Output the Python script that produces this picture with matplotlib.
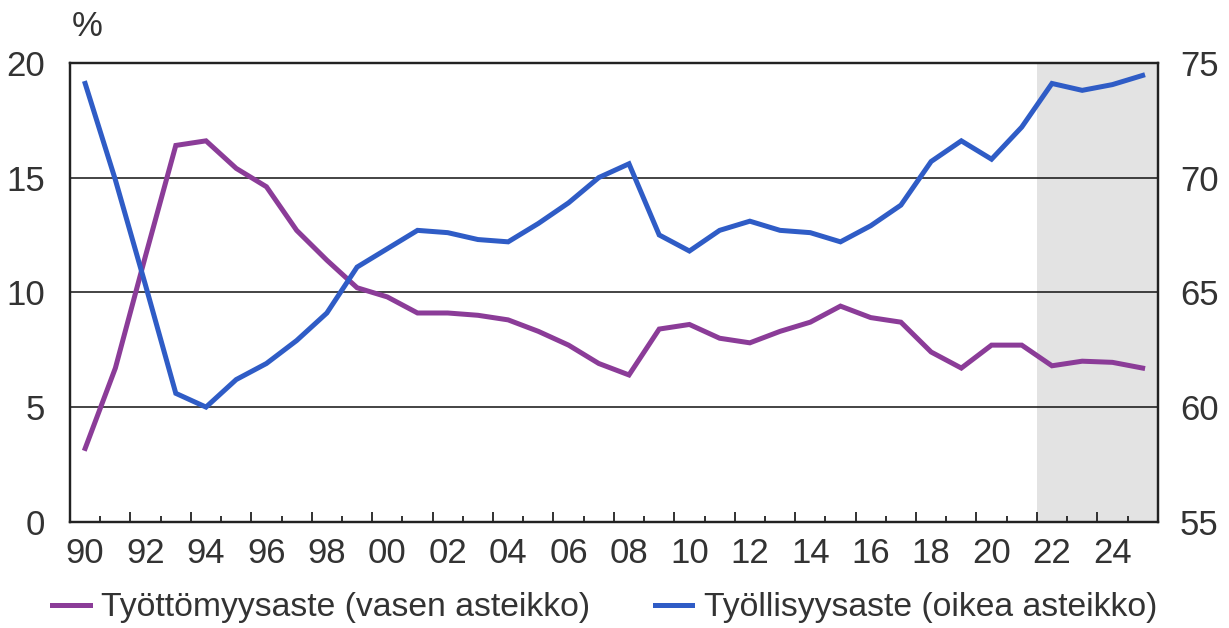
import matplotlib
matplotlib.use("Agg")
import matplotlib.pyplot as plt
import numpy as np

plt.rcParams['font.family'] = ['Liberation Sans', 'DejaVu Sans']

years = list(range(1990, 2026))

# työttömyysaste, % (vasen asteikko)
unemployment = [3.2, 6.7, 11.6, 16.4, 16.6, 15.4, 14.6, 12.7, 11.4, 10.2,
                9.8, 9.1, 9.1, 9.0, 8.8, 8.3, 7.7, 6.9, 6.4, 8.4,
                8.6, 8.0, 7.8, 8.3, 8.7, 9.4, 8.9, 8.7, 7.4, 6.7,
                7.7, 7.7, 6.8, 7.0, 6.95, 6.7]

# työllisyysaste, % (oikea asteikko)
employment = [74.1, 69.9, 65.3, 60.6, 60.0, 61.2, 61.9, 62.9, 64.1, 66.1,
              66.9, 67.7, 67.6, 67.3, 67.2, 68.0, 68.9, 70.0, 70.6, 67.5,
              66.8, 67.7, 68.1, 67.7, 67.6, 67.2, 67.9, 68.8, 70.7, 71.6,
              70.8, 72.2, 74.1, 73.8, 74.05, 74.45]

forecast_start = 2021.5
year_labels = ['90', '92', '94', '96', '98', '00', '02', '04', '06', '08',
               '10', '12', '14', '16', '18', '20', '22', '24']

purple = '#8b3c98'
blue = '#2f5cc6'
txt = '#333333'
fs = 25

fig = plt.figure(figsize=(12.29, 6.28), dpi=100)
ax = fig.add_axes([0.057, 0.169, 0.885, 0.731])
ax2 = ax.twinx()

ax.axvspan(forecast_start, 2025.5, color='#e3e3e3', zorder=0, lw=0)

ax.set_xlim(1989.5, 2025.5)
ax.set_ylim(0, 20)
ax2.set_ylim(55, 75)

for v in [5, 10, 15]:
    ax.axhline(v, color='#111111', lw=1.1, zorder=1)

l1, = ax.plot(years, unemployment, color=purple, lw=3.6, zorder=3,
              solid_joinstyle='miter', label='Työttömyysaste (vasen asteikko)')
l2, = ax2.plot(years, employment, color=blue, lw=3.6, zorder=3,
               solid_joinstyle='miter', label='Työllisyysaste (oikea asteikko)')

ax.set_yticks([0, 5, 10, 15, 20])
ax2.set_yticks([55, 60, 65, 70, 75])
ax.tick_params(axis='y', length=0, pad=18, labelsize=fs, colors=txt)
ax2.tick_params(axis='y', length=0, pad=16, labelsize=fs, colors=txt)

# tick marks between years, longer every other one
ax.set_xticks(np.arange(1991.5, 2025, 2))
ax.set_xticklabels([])
ax.set_xticks(np.arange(1990.5, 2025, 2), minor=True)
ax.tick_params(axis='x', which='major', direction='in', length=7, width=1.3, color='#222222')
ax.tick_params(axis='x', which='minor', direction='in', length=4, width=1.3, color='#222222')

sec = ax.secondary_xaxis('bottom')
sec.set_xticks(np.arange(1990, 2025, 2))
sec.set_xticklabels(year_labels)
sec.tick_params(length=0, pad=11, labelsize=fs, colors=txt)
sec.spines['bottom'].set_visible(False)

for a in (ax, ax2):
    for s in a.spines.values():
        s.set_color('#222222')
        s.set_linewidth(1.6)

fig.text(0.058, 0.958, '%', fontsize=fs, color=txt, ha='left', va='center')

fig.legend(handles=[l1, l2], loc='center', bbox_to_anchor=(0.492, 0.032), ncol=2,
           frameon=False, fontsize=24.3, handlelength=1.1, handletextpad=0.35,
           columnspacing=1.9, labelcolor=txt)

fig.savefig('out.png', dpi=100)
